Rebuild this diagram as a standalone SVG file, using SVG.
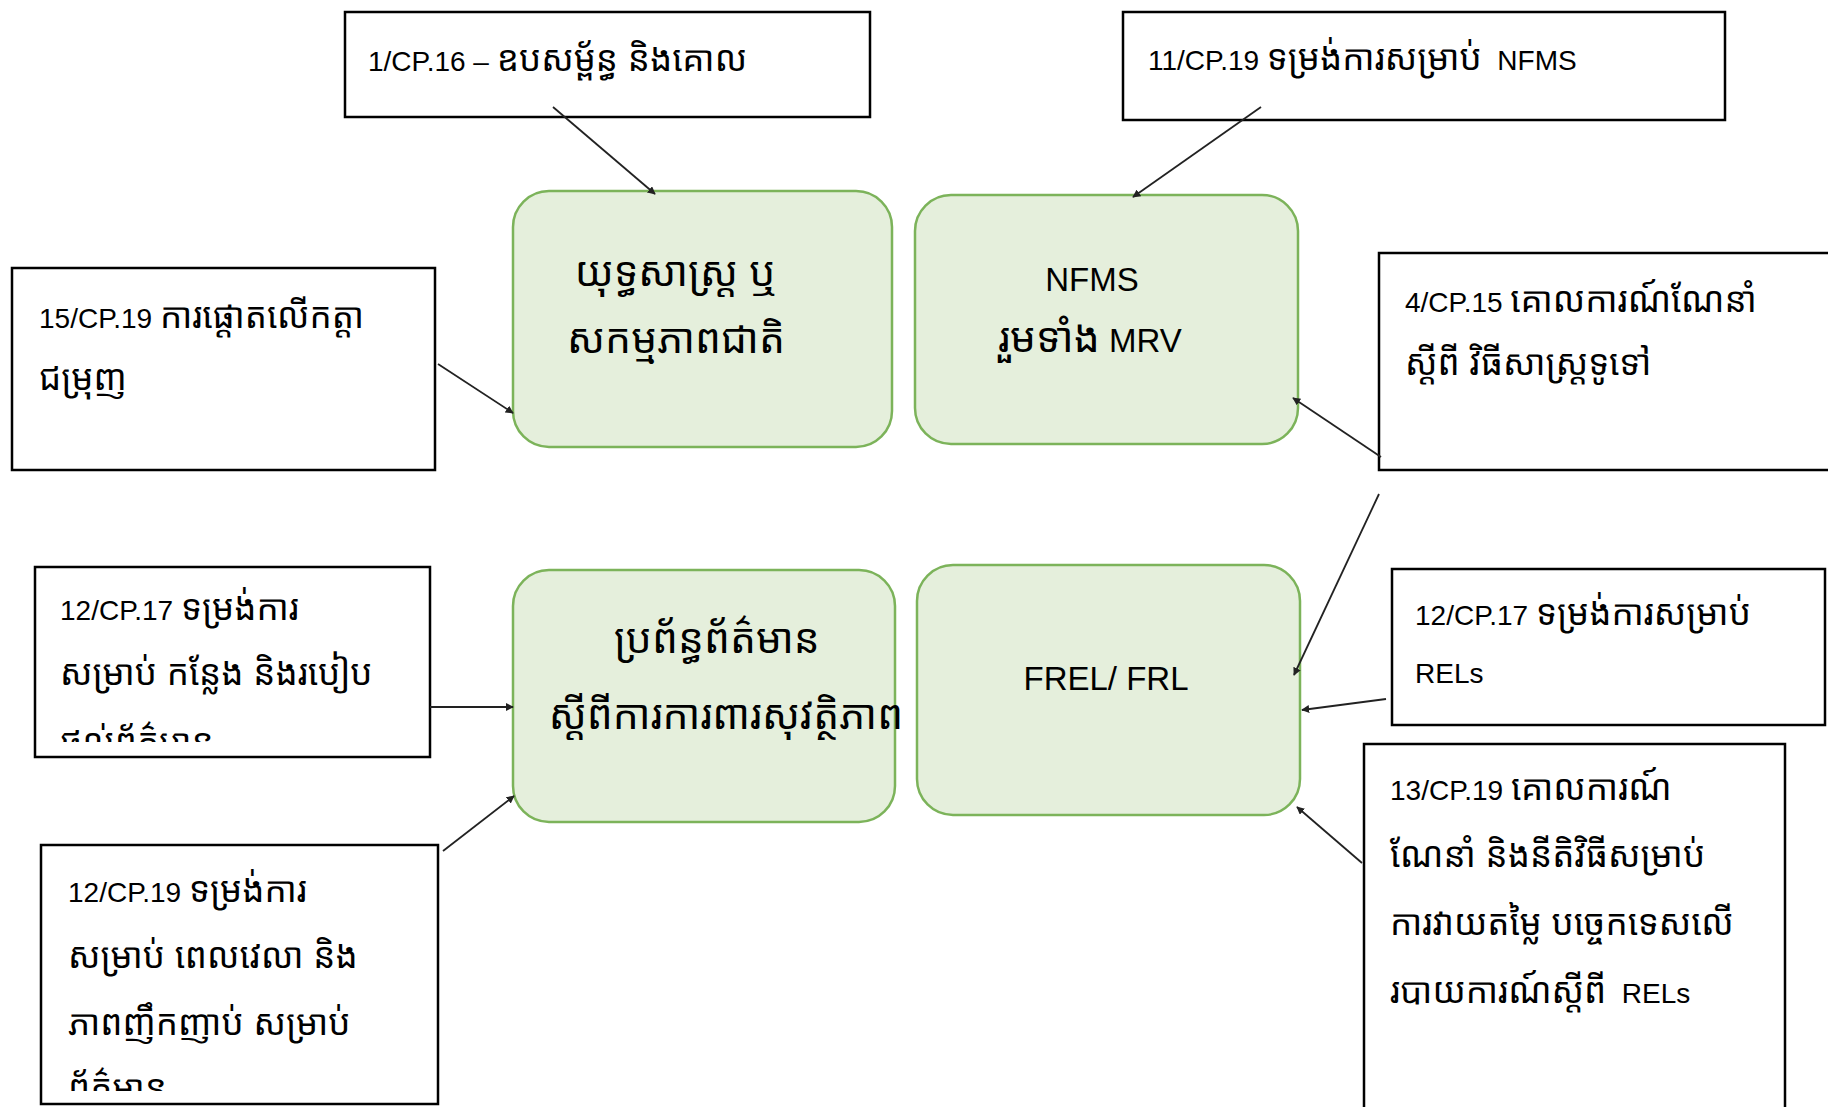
<svg xmlns="http://www.w3.org/2000/svg" width="1828" height="1107" viewBox="0 0 1828 1107">
<style>
.box{fill:#fff;stroke:#000;stroke-width:2.5}
.node{fill:#e5efdc;stroke:#7cb35a;stroke-width:2.5}
.t{font-family:"Liberation Sans","Noto Sans Khmer","Noto Sans",sans-serif;font-size:28px;fill:#000;white-space:pre}
.k{font-size:35px}
.nt{font-size:33px}
.nk{font-size:41px}
.c{text-anchor:middle}
.con{stroke:#222;stroke-width:1.8;fill:none;marker-end:url(#ah)}
</style>
<defs>
<marker id="ah" viewBox="0 0 10 10" refX="9" refY="5" markerWidth="8" markerHeight="8" markerUnits="userSpaceOnUse" orient="auto"><path d="M0,0 L10,5 L0,10 z" fill="#222"/></marker>
<clipPath id="clipA"><rect x="35" y="567" width="395" height="175"/></clipPath>
<clipPath id="clipB"><rect x="41" y="845" width="397" height="246"/></clipPath>
</defs>
<rect width="1828" height="1107" fill="#fff"/>

<g id="n-strategy">
<rect class="node" x="513" y="191" width="379" height="256" rx="36"/>
<text class="t nk c" x="676" y="286">យុទ្ធសាស្ត្រ ឬ</text>
<text class="t nk c" x="676" y="353">សកម្មភាពជាតិ</text>
</g>
<g id="n-nfms">
<rect class="node" x="915" y="195" width="383" height="249" rx="36"/>
<text class="t nt c" x="1092" y="291">NFMS</text>
<text class="t nt c" x="1090" y="352"><tspan class="nk">រួមទាំង</tspan> MRV</text>
</g>
<g id="n-sis">
<rect class="node" x="513" y="570" width="382" height="252" rx="36"/>
<text class="t nk c" x="717" y="653">ប្រព័ន្ធព័ត៌មាន</text>
<text class="t nk c" x="726" y="729">ស្ដីពីការការពារសុវត្ថិភាព</text>
</g>
<g id="n-frel">
<rect class="node" x="917" y="565" width="383" height="250" rx="36"/>
<text class="t nt c" x="1106" y="690">FREL/ FRL</text>
</g>

<g id="b-1cp16">
<rect class="box" x="345" y="12" width="525" height="105"/>
<text class="t" x="368" y="71">1/CP.16 – <tspan class="k">ឧបសម្ព័ន្ធ និងគោល</tspan></text>
</g>
<g id="b-11cp19">
<rect class="box" x="1123" y="12" width="602" height="108"/>
<text class="t" x="1148" y="70">11/CP.19 <tspan class="k">ទម្រង់ការសម្រាប់</tspan>  NFMS</text>
</g>
<g id="b-15cp19">
<rect class="box" x="12" y="268" width="423" height="202"/>
<text class="t" x="39" y="328">15/CP.19 <tspan class="k">ការផ្ដោតលើកត្តា</tspan></text>
<text class="t k" x="39" y="390">ជម្រុញ</text>
</g>
<g id="b-4cp15">
<rect class="box" x="1379" y="253" width="460" height="217"/>
<text class="t" x="1405" y="312">4/CP.15 <tspan class="k">គោលការណ៍ណែនាំ</tspan></text>
<text class="t k" x="1405" y="375">ស្ដីពី វិធីសាស្ត្រទូទៅ</text>
</g>
<g id="b-12cp17-left">
<rect class="box" x="35" y="567" width="395" height="190"/>
<g clip-path="url(#clipA)">
<text class="t" x="60" y="620">12/CP.17 <tspan class="k">ទម្រង់ការ</tspan></text>
<text class="t k" x="60" y="685">សម្រាប់ កន្លែង និងរបៀប</text>
<text class="t k" x="60" y="754">ផ្ដល់ព័ត៌មាន</text>
</g>
</g>
<g id="b-12cp19">
<rect class="box" x="41" y="845" width="397" height="259"/>
<g clip-path="url(#clipB)">
<text class="t" x="68" y="902">12/CP.19 <tspan class="k">ទម្រង់ការ</tspan></text>
<text class="t k" x="68" y="968">សម្រាប់ ពេលវេលា និង</text>
<text class="t k" x="68" y="1035">ភាពញឹកញាប់ សម្រាប់</text>
<text class="t k" x="68" y="1100">ព័ត៌មាន</text>
</g>
</g>
<g id="b-12cp17-right">
<rect class="box" x="1392" y="569" width="433" height="156"/>
<text class="t" x="1415" y="625">12/CP.17 <tspan class="k">ទម្រង់ការសម្រាប់</tspan></text>
<text class="t" x="1415" y="683">RELs</text>
</g>
<g id="b-13cp19">
<rect class="box" x="1364" y="744" width="421" height="380"/>
<text class="t" x="1390" y="800">13/CP.19 <tspan class="k">គោលការណ៍</tspan></text>
<text class="t k" x="1390" y="867">ណែនាំ និងនីតិវិធីសម្រាប់</text>
<text class="t k" x="1390" y="935">ការវាយតម្លៃ បច្ចេកទេសលើ</text>
<text class="t" x="1390" y="1003"><tspan class="k">របាយការណ៍ស្ដីពី</tspan>  RELs</text>
</g>

<g id="connectors">
<line class="con" x1="553" y1="107" x2="655" y2="194"/>
<line class="con" x1="1261" y1="107" x2="1133" y2="197"/>
<line class="con" x1="438" y1="364" x2="513" y2="413"/>
<line class="con" x1="1381" y1="457" x2="1293" y2="398"/>
<line class="con" x1="1379" y1="494" x2="1294" y2="675"/>
<line class="con" x1="430" y1="707" x2="513" y2="707"/>
<line class="con" x1="443" y1="851" x2="514" y2="796"/>
<line class="con" x1="1386" y1="699" x2="1302" y2="710"/>
<line class="con" x1="1362" y1="863" x2="1297" y2="807"/>
</g>
</svg>
